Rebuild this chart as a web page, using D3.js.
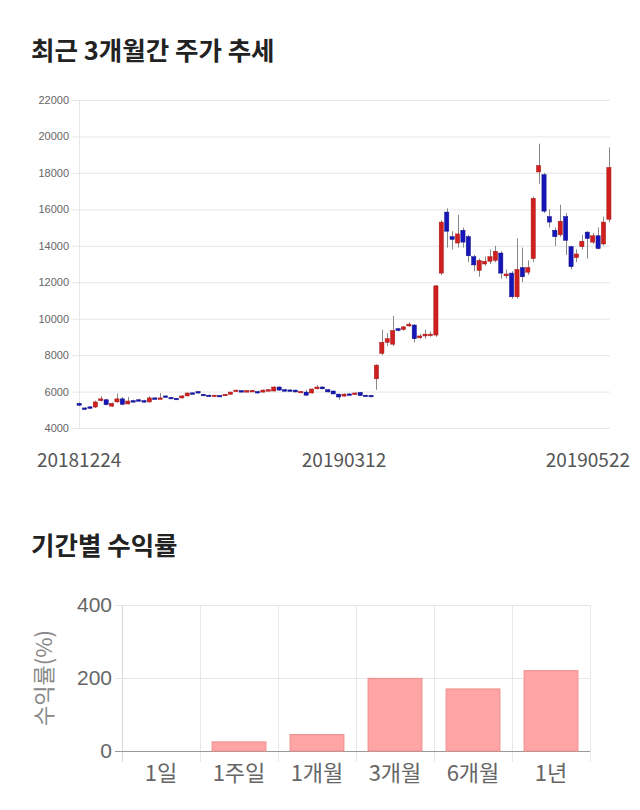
<!DOCTYPE html>
<meta charset="utf-8">
<script src="https://d3js.org/d3.v7.min.js"></script>
<style>
  body { margin: 0; background: #fff; }
  text { font-family: "Noto Sans CJK KR", "Noto Sans", sans-serif; }
</style>
<div id="chart"></div>
<script>
// candle data (3 months, daily), index = trading day
var open  = [5350,5100,5160,5150,5500,5550,5200,5430,5600,5320,5500,5550,5500,5430,5650,5640,5760,5680,5630,5650,
             5760,5930,6000,5850,5800,5790,5790,5770,5850,6040,6050,6030,6040,6000,5970,6080,6030,6250,6100,6090,
             6080,5990,5970,5920,6150,6250,6100,6030,5860,5750,5870,5860,5950,5800,5790,6700,8100,8700,8600,9450,
             9400,9600,9650,8950,9050,9100,9100,12500,15850,14500,14150,14850,14500,13400,12650,13000,13150,13200,13600,12350,
             12500,11200,12800,12550,13300,18050,17900,15600,14850,14600,15600,13950,13350,13950,14750,14200,14550,14100,15450];
var high  = [5400,5150,5200,5500,5750,5600,5400,5900,5700,5700,5550,5600,5550,5750,5700,5920,5800,5700,5650,5800,
             5950,5960,6020,5870,5850,5820,5820,5880,6000,6100,6080,6080,6080,6050,6120,6130,6280,6280,6150,6110,
             6100,6030,6100,6160,6350,6280,6120,6060,5880,5900,5900,5960,5980,5820,5820,7500,9400,9200,10150,9500,
             9600,9800,9700,9150,9400,9300,11850,15400,16050,14800,15700,15000,14600,13500,13300,13400,13800,14000,13700,12700,
             12600,14400,13900,13200,16700,19600,18000,16000,15000,16250,15800,14000,13800,14600,14800,14700,15000,15600,19400];
var low   = [5200,5000,5100,5100,5450,5250,5150,5400,5250,5300,5450,5500,5400,5400,5600,5600,5680,5600,5580,5620,
             5740,5880,5900,5750,5770,5760,5750,5760,5830,6000,6000,6000,6000,5930,5950,6050,6000,6050,6020,6050,
             5950,5950,5780,5900,6120,6130,5950,5850,5550,5720,5830,5840,5760,5750,5740,6100,8000,8500,8500,9300,
             9350,9550,8700,8900,8900,9000,9000,12400,13900,13800,13900,13900,13100,12600,12300,12900,13000,13100,12200,12200,
             11100,11100,12000,12400,13100,17400,15800,15000,14000,14500,13500,12700,13100,13800,13300,14100,13800,14000,15300];
var close = [5250,5050,5150,5430,5600,5280,5350,5600,5300,5480,5470,5520,5420,5650,5630,5650,5700,5620,5610,5760,
             5920,5910,5920,5770,5790,5800,5770,5850,5970,6080,6030,6050,6060,5950,6080,6100,6250,6080,6050,6070,
             5980,6010,5800,6140,6250,6150,5980,5870,5700,5860,5850,5920,5780,5780,5770,7450,8700,8900,9350,9350,
             9550,9700,8900,9050,9150,9150,11800,15300,14800,14350,14650,14200,13450,12950,13200,13150,13400,13700,12500,12450,
             11200,12700,12300,12800,16600,18400,15900,15300,14500,15350,14300,12850,13550,14250,14400,14550,13850,15300,18300];

var priceTicks = [4000,6000,8000,10000,12000,14000,16000,18000,20000,22000];
var dateTickIndex = [0, 49, 98];
var dateTickLabels = ["20181224", "20190312", "20190522"];

// returns by period
var periods = ["1일", "1주일", "1개월", "3개월", "6개월", "1년"];
var returns = [0, 25, 45, 199, 170, 220];
var returnTicks = [0, 200, 400];

var svg = d3.select("#chart").append("svg")
    .attr("width", 640)
    .attr("height", 810);

// ---------- titles
svg.append("text").attr("x", 31).attr("y", 60)
    .style("font-size", "25.5px").style("font-weight", "bold").attr("fill", "#222")
    .text("최근 3개월간 주가 추세");
svg.append("text").attr("x", 31).attr("y", 555)
    .style("font-size", "25.5px").style("font-weight", "bold").attr("fill", "#222")
    .text("기간별 수익률");

// ---------- candle chart
var cLeft = 77, cRight = 611, cTop = 100, cBottom = 428;

var x = d3.scaleBand()
    .domain(d3.range(open.length))
    .range([cLeft, cRight])
    .paddingInner(0.22);

var y = d3.scaleLinear()
    .domain([4000, 22000])
    .range([cBottom, cTop]);

// gridlines
svg.append("g").selectAll("line")
    .data(priceTicks)
    .enter().append("line")
    .attr("x1", 72).attr("x2", 610)
    .attr("y1", function (d) { return y(d) + 0.5; })
    .attr("y2", function (d) { return y(d) + 0.5; })
    .attr("stroke", "#e6e6e6");

svg.append("line")
    .attr("x1", 79.5).attr("x2", 79.5)
    .attr("y1", cTop).attr("y2", cBottom)
    .attr("stroke", "#e6e6e6");

svg.append("g").selectAll("text")
    .data(priceTicks)
    .enter().append("text")
    .attr("x", 69)
    .attr("y", function (d) { return y(d) + 4; })
    .attr("text-anchor", "end")
    .style("font-family", "'Liberation Sans', Arial, sans-serif")
    .style("font-size", "11px")
    .attr("fill", "#666")
    .text(function (d) { return d; });

// date labels
svg.append("g").selectAll("text")
    .data(dateTickIndex)
    .enter().append("text")
    .attr("x", function (d, i) {
        var cx = x(d) + x.bandwidth() / 2;
        return i == dateTickIndex.length - 1 ? 630 : cx;
    })
    .attr("y", 467)
    .attr("text-anchor", function (d, i) { return i == dateTickIndex.length - 1 ? "end" : "middle"; })
    .style("font-size", "19px")
    .attr("fill", "#555")
    .text(function (d, i) { return dateTickLabels[i]; });

var candles = svg.append("g").selectAll("g")
    .data(d3.range(open.length))
    .enter().append("g");

// wicks
candles.append("line")
    .attr("x1", function (i) { return Math.round(x(i) + x.bandwidth() / 2) + 0.5; })
    .attr("x2", function (i) { return Math.round(x(i) + x.bandwidth() / 2) + 0.5; })
    .attr("y1", function (i) { return y(high[i]); })
    .attr("y2", function (i) { return y(low[i]); })
    .attr("stroke", "#888")
    .attr("stroke-width", 1);

// bodies
candles.append("rect")
    .attr("x", function (i) { return x(i); })
    .attr("width", x.bandwidth())
    .attr("y", function (i) { return y(Math.max(open[i], close[i])); })
    .attr("height", function (i) { return Math.max(1.5, Math.abs(y(open[i]) - y(close[i]))); })
    .attr("fill", function (i) { return close[i] >= open[i] ? "#d01f1f" : "#1515b8"; })
    .attr("stroke", function (i) { return close[i] >= open[i] ? "#a81818" : "#10108a"; })
    .attr("stroke-width", 0.5);

// ---------- returns bar chart
var bLeft = 122, bRight = 590, bTop = 605, bBottom = 751;

var bx = d3.scaleBand()
    .domain(periods)
    .range([bLeft, bRight])
    .paddingInner(0.31)
    .paddingOuter(0.155);

var by = d3.scaleLinear()
    .domain([0, 400])
    .range([bBottom, bTop]);

// vertical grid
var step = (bRight - bLeft) / periods.length;
svg.append("g").selectAll("line")
    .data(d3.range(periods.length + 1))
    .enter().append("line")
    .attr("x1", function (d) { return Math.round(bLeft + d * step) + 0.5; })
    .attr("x2", function (d) { return Math.round(bLeft + d * step) + 0.5; })
    .attr("y1", bTop).attr("y2", 762)
    .attr("stroke", function (d) { return d == 0 ? "#d8d8d8" : "#e8e8e8"; });

svg.append("g").selectAll("line")
    .data(returnTicks)
    .enter().append("line")
    .attr("x1", 115).attr("x2", bRight)
    .attr("y1", function (d) { return by(d) + 0.5; })
    .attr("y2", function (d) { return by(d) + 0.5; })
    .attr("stroke", function (d) { return d == 0 ? "#999" : "#e6e6e6"; });

svg.append("g").selectAll("text")
    .data(returnTicks)
    .enter().append("text")
    .attr("x", 112)
    .attr("y", function (d) { return by(d) + 7; })
    .attr("text-anchor", "end")
    .style("font-family", "'Liberation Sans', Arial, sans-serif")
    .style("font-size", "21px")
    .attr("fill", "#666")
    .text(function (d) { return d; });

svg.append("text")
    .attr("transform", "translate(52,678) rotate(-90)")
    .attr("text-anchor", "middle")
    .style("font-size", "22px")
    .attr("fill", "#888")
    .text("수익률(%)");

svg.append("g").selectAll("rect")
    .data(periods)
    .enter().append("rect")
    .attr("x", function (d) { return bx(d); })
    .attr("width", bx.bandwidth())
    .attr("y", function (d, i) { return by(returns[i]); })
    .attr("height", function (d, i) { return bBottom - by(returns[i]); })
    .attr("fill", "#ffa5a5")
    .attr("stroke", "#f08c8c")
    .attr("stroke-width", 1);

svg.append("g").selectAll("text")
    .data(periods)
    .enter().append("text")
    .attr("x", function (d) { return bx(d) + bx.bandwidth() / 2; })
    .attr("y", 781)
    .attr("text-anchor", "middle")
    .style("font-size", "22px")
    .attr("fill", "#666")
    .text(function (d) { return d; });
</script>
